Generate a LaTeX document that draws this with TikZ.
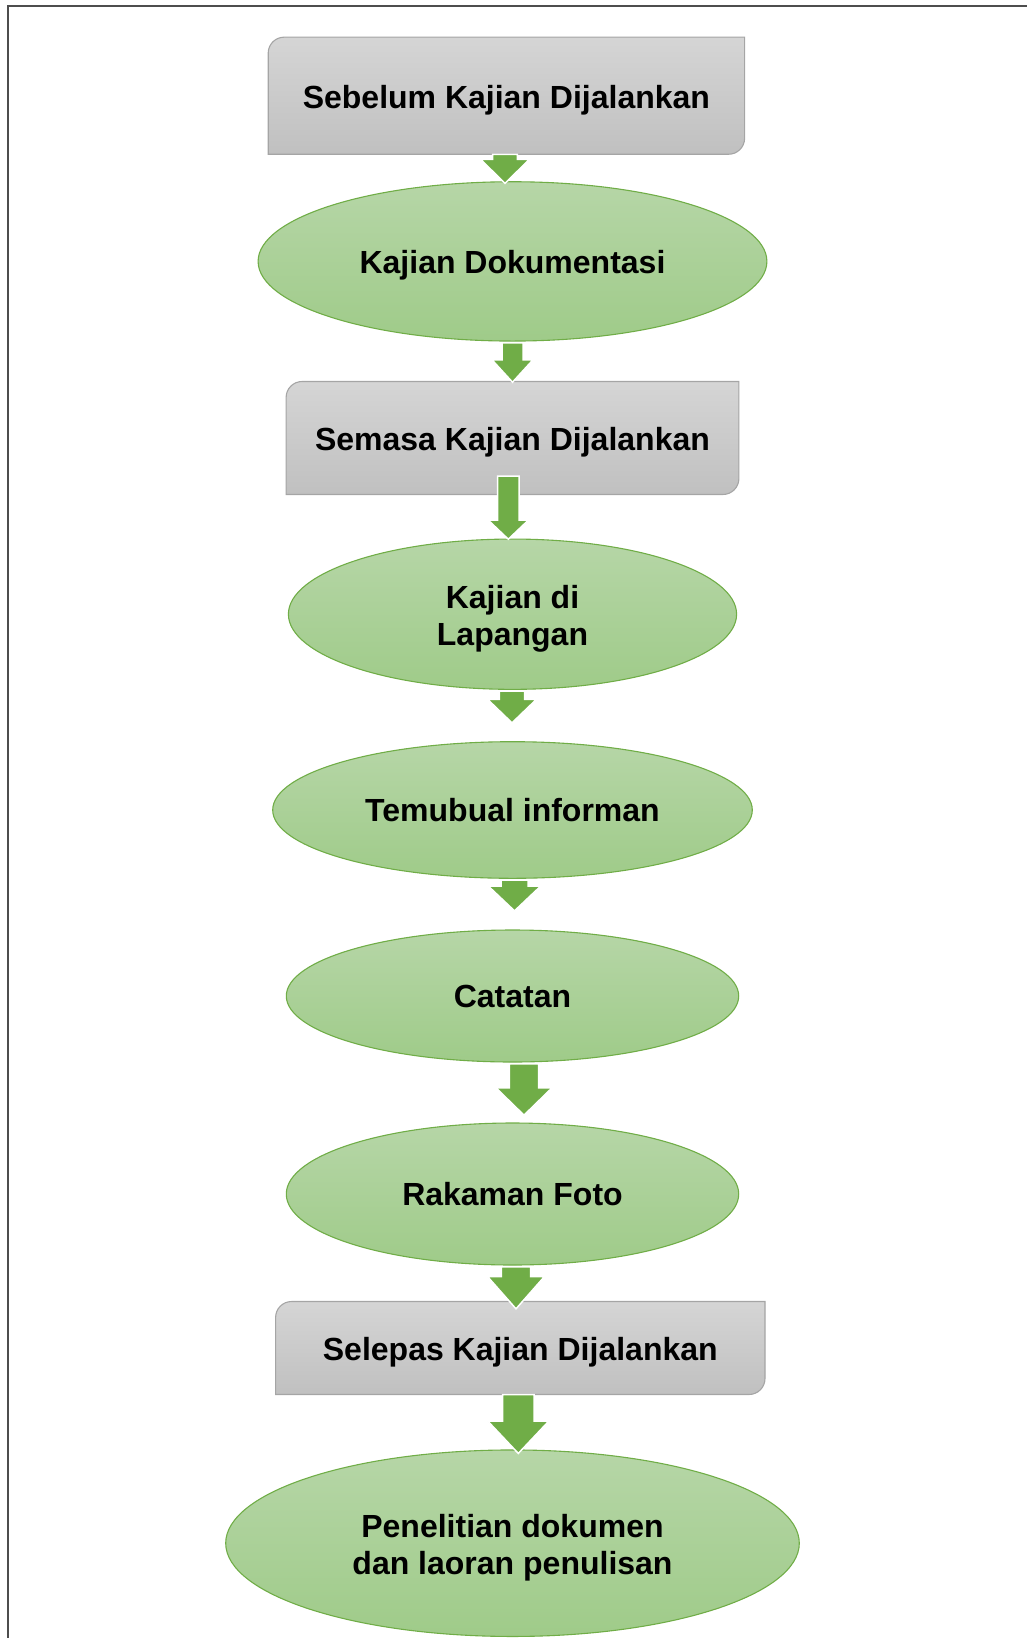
\documentclass[tikz,border=0pt]{standalone}
\usepackage{fontspec}
\setmainfont{Liberation Sans}
\usetikzlibrary{shapes.geometric,calc,backgrounds}
\definecolor{arrgreen}{HTML}{70AD47}
\definecolor{ellbord}{HTML}{70AD47}
\definecolor{elltop}{RGB}{182,214,167}
\definecolor{ellbot}{RGB}{159,203,137}
\definecolor{boxtop}{RGB}{213,213,213}
\definecolor{boxbot}{RGB}{192,192,192}
\definecolor{boxbord}{RGB}{165,165,165}
\definecolor{framegray}{RGB}{77,77,77}
\tikzset{
 lbl/.style={font=\bfseries\fontsize{32}{37.6}\selectfont, align=center, text=black, inner sep=0pt},
 ellnode/.style={ellipse, inner sep=0pt, draw=ellbord, line width=1.1pt, top color=elltop, bottom color=ellbot},
 boxnode/.style={rectangle, inner sep=0pt},
 boxshape/.style={draw=boxbord, line width=1.1pt, top color=boxtop, bottom color=boxbot},
 blockarrow/.style n args={3}{fill=arrgreen, draw=white, line width=1.5pt, line join=miter,
   to path={let \p1=(\tikztostart), \p2=(\tikztotarget) in
     (\x1-#1pt,\y1) -- (\x1-#1pt,\y2+#3pt) -- (\x1-#2pt,\y2+#3pt) -- (\x1,\y2) -- (\x1+#2pt,\y2+#3pt) -- (\x1+#1pt,\y2+#3pt) -- (\x1+#1pt,\y1) -- cycle}},
}
\newcommand\diagbox[1]{\path[boxshape] (#1.south west) -- ($(#1.north west)+(0,16)$) arc[start angle=180, end angle=90, radius=16pt] -- (#1.north east) -- ($(#1.south east)+(0,-16)$) arc[start angle=0, end angle=-90, radius=16pt] -- cycle;}
\begin{document}
\begin{tikzpicture}[x=1pt,y=-1pt]
\useasboundingbox (0,0) rectangle (1026,1638);
\draw[framegray, line width=2pt] (1030,6) -- (8,6) -- (8,1645);

\node[boxnode, minimum width=476pt, minimum height=116.7pt] (b1) at (506.4,95.7) {};
\node[ellnode, minimum width=508.8pt, minimum height=159.3pt] (e1) at (512.5,261.4) {};
\node[boxnode, minimum width=452.4pt, minimum height=112.6pt] (b2) at (512.5,438) {};
\node[ellnode, minimum width=448.2pt, minimum height=150.3pt] (e2) at (512.5,614.2) {};
\node[ellnode, minimum width=479.6pt, minimum height=136.6pt] (e3) at (512.5,810) {};
\node[ellnode, minimum width=452.4pt, minimum height=132pt] (e4) at (512.5,996) {};
\node[ellnode, minimum width=452.4pt, minimum height=142pt] (e5) at (512.5,1194) {};
\node[boxnode, minimum width=489pt, minimum height=92.6pt] (b3) at (520.3,1348) {};
\node[ellnode, minimum width=573.6pt, minimum height=186.5pt] (e6) at (512.5,1543.2) {};

\begin{pgfonlayer}{background}
\diagbox{b1}
\diagbox{b2}
\diagbox{b3}
\end{pgfonlayer}

\node[lbl] (tb1) at ($(b1)+(0,4.2)$) {Sebelum Kajian Dijalankan};
\node[lbl] (te1) at ($(e1)+(0,4.2)$) {Kajian Dokumentasi};
\node[lbl] (tb2) at ($(b2)+(0,4.2)$) {Semasa Kajian Dijalankan};
\node[lbl] (te2) at ($(e2)+(0,4.4)$) {Kajian di\\Lapangan};
\node[lbl] (te3) at ($(e3)+(0,0.5)$) {Temubual informan};
\node[lbl] (te4) at ($(e4)+(0,0.5)$) {Catatan};
\node[lbl] (te5) at ($(e5)+(0,0.5)$) {Rakaman Foto};
\node[lbl] (tb3) at ($(b3)+(0,4.2)$) {Selepas Kajian Dijalankan};
\node[lbl] (te6) at ($(e6)+(0,4.6)$) {Penelitian dokumen\\dan laoran penulisan};

\coordinate (x1) at (505,0);
\coordinate (x2) at (512.5,0);
\coordinate (x3) at (508.3,0);
\coordinate (x4) at (512,0);
\coordinate (x5) at (514.5,0);
\coordinate (x6) at (524,0);
\coordinate (x7) at (516,0);
\coordinate (x8) at (518.3,0);

\path[blockarrow={12.4}{24.3}{24}] (x1 |- b1.south) to ($(x1 |- e1.north)+(0,2.2)$);
\path[blockarrow={10.5}{20.5}{22.4}] ($(x2 |- e1.south)+(0,1.2)$) to ($(x2 |- b2.north)+(0,0.7)$);
\path[blockarrow={10.7}{20}{19}] ($(x3 |- b2.south)+(0,-18.3)$) to ($(x3 |- e2.north)+(0,0.7)$);
\path[blockarrow={12.7}{24.3}{23.4}] ($(x4 |- e2.south)+(0,1.2)$) to ($(x4 |- e3.north)+(0,-18.3)$);
\path[blockarrow={13.5}{26.1}{24.7}] ($(x5 |- e3.south)+(0,1.2)$) to ($(x5 |- e4.north)+(0,-18.6)$);
\path[blockarrow={14.7}{28.1}{27.4}] ($(x6 |- e4.south)+(0,1.2)$) to ($(x6 |- e5.north)+(0,-7.3)$);
\path[blockarrow={14.7}{28.5}{32.3}] ($(x7 |- e5.south)+(0,1.2)$) to ($(x7 |- b3.north)+(0,7.3)$);
\path[blockarrow={15.7}{30.5}{32.3}] (x8 |- b3.south) to ($(x8 |- e6.north)+(0,4)$);
\end{tikzpicture}
\end{document}
